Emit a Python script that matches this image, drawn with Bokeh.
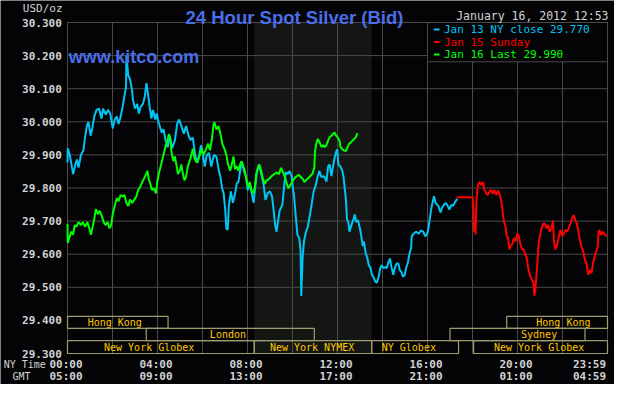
from bokeh.plotting import figure
from bokeh.models import Range1d
from bokeh.core.properties import value
from bokeh.embed import file_html
from bokeh.resources import INLINE

# ---------------- data ----------------
y_ticks = [30.3, 30.2, 30.1, 30.0, 29.9, 29.8, 29.7, 29.6, 29.5, 29.4, 29.3]
y_tick_labels = ["30.300", "30.200", "30.100", "30.000", "29.900", "29.800",
                 "29.700", "29.600", "29.500", "29.400", "29.300"]
x_ticks = [0, 4, 8, 12, 16, 20, 24]
ny_time_labels = ["00:00", "04:00", "08:00", "12:00", "16:00", "20:00", "23:59"]
gmt_labels = ["05:00", "09:00", "13:00", "17:00", "21:00", "01:00", "04:59"]

# (hour NY time, USD/oz)
jan13 = [(0.00, 29.877), (0.01, 29.920), (0.10, 29.900), (0.25, 29.842), (0.35, 29.871),
         (0.42, 29.886), (0.49, 29.862), (0.60, 29.900), (0.71, 29.915), (0.78, 29.952),
         (0.86, 29.987), (0.93, 30.000), (1.03, 29.958), (1.10, 29.980), (1.19, 30.016),
         (1.29, 30.036), (1.40, 30.040), (1.51, 30.010), (1.58, 30.040), (1.70, 30.022),
         (1.80, 30.036), (1.90, 30.025), (2.01, 29.980), (2.10, 30.007), (2.19, 30.016),
         (2.27, 29.993), (2.36, 30.016), (2.45, 30.045), (2.52, 30.074), (2.60, 30.103),
         (2.62, 30.200), (2.70, 30.140), (2.77, 30.130), (2.86, 30.100), (2.91, 30.065),
         (3.00, 30.040), (3.10, 30.054), (3.17, 30.025), (3.25, 30.045), (3.35, 30.054),
         (3.43, 30.074), (3.51, 30.117), (3.58, 30.083), (3.65, 30.045), (3.73, 30.010),
         (3.80, 30.036), (3.90, 30.007), (3.97, 30.025), (4.04, 30.000), (4.13, 29.980),
         (4.19, 29.967), (4.27, 29.978), (4.36, 29.943), (4.45, 29.923), (4.55, 29.958),
         (4.65, 29.920), (4.77, 29.943), (4.88, 29.996), (4.96, 30.007), (5.06, 29.987),
         (5.17, 29.964), (5.27, 29.987), (5.38, 29.958), (5.47, 29.945), (5.57, 29.952),
         (5.67, 29.900), (5.78, 29.877), (5.86, 29.900), (5.93, 29.929), (6.00, 29.909),
         (6.10, 29.865), (6.19, 29.900), (6.29, 29.906), (6.39, 29.865), (6.51, 29.900),
         (6.62, 29.894), (6.73, 29.851), (6.80, 29.833), (6.87, 29.799), (6.94, 29.784),
         (7.01, 29.735), (7.06, 29.677), (7.12, 29.674), (7.17, 29.746), (7.26, 29.790),
         (7.35, 29.755), (7.45, 29.784), (7.52, 29.813), (7.60, 29.819), (7.67, 29.851),
         (7.75, 29.880), (7.84, 29.851), (7.93, 29.836), (8.01, 29.793), (8.10, 29.813),
         (8.19, 29.784), (8.27, 29.755), (8.36, 29.813), (8.42, 29.851), (8.51, 29.871),
         (8.61, 29.842), (8.71, 29.813), (8.80, 29.764), (8.90, 29.784), (9.00, 29.790),
         (9.09, 29.775), (9.14, 29.746), (9.23, 29.688), (9.29, 29.668), (9.35, 29.697),
         (9.43, 29.732), (9.55, 29.749), (9.64, 29.813), (9.70, 29.848), (9.78, 29.842),
         (9.87, 29.851), (9.96, 29.836), (10.01, 29.804), (10.07, 29.775), (10.13, 29.726),
         (10.22, 29.659), (10.30, 29.648), (10.36, 29.610), (10.39, 29.474), (10.45, 29.590),
         (10.51, 29.639), (10.60, 29.668), (10.68, 29.683), (10.77, 29.717), (10.86, 29.755),
         (10.94, 29.790), (11.03, 29.807), (11.12, 29.835), (11.19, 29.851), (11.29, 29.833),
         (11.40, 29.836), (11.51, 29.819), (11.58, 29.865), (11.65, 29.871), (11.73, 29.836),
         (11.80, 29.865), (11.87, 29.891), (11.94, 29.909), (11.99, 29.917), (12.04, 29.871),
         (12.13, 29.865), (12.22, 29.851), (12.27, 29.833), (12.33, 29.793), (12.38, 29.761),
         (12.42, 29.706), (12.48, 29.697), (12.53, 29.668), (12.62, 29.688), (12.71, 29.706),
         (12.77, 29.720), (12.83, 29.697), (12.91, 29.703), (13.00, 29.677), (13.06, 29.654),
         (13.12, 29.625), (13.17, 29.639), (13.25, 29.604), (13.32, 29.590), (13.39, 29.567),
         (13.47, 29.558), (13.53, 29.538), (13.61, 29.529), (13.68, 29.517), (13.75, 29.514),
         (13.83, 29.532), (13.90, 29.558), (13.97, 29.567), (14.04, 29.558), (14.12, 29.561),
         (14.19, 29.558), (14.26, 29.575), (14.33, 29.587), (14.40, 29.561), (14.48, 29.538),
         (14.55, 29.558), (14.62, 29.572), (14.70, 29.572), (14.77, 29.552), (14.84, 29.546),
         (14.91, 29.532), (14.99, 29.538), (15.06, 29.561), (15.13, 29.575), (15.20, 29.601),
         (15.27, 29.619), (15.30, 29.654), (15.38, 29.662), (15.49, 29.668), (15.61, 29.662),
         (15.71, 29.671), (15.81, 29.668), (15.90, 29.654), (15.99, 29.662), (16.04, 29.677),
         (16.10, 29.706), (16.16, 29.735), (16.22, 29.755), (16.29, 29.775), (16.36, 29.755),
         (16.48, 29.746), (16.58, 29.726), (16.65, 29.741), (16.73, 29.749), (16.80, 29.755),
         (16.88, 29.749), (16.97, 29.735), (17.06, 29.749), (17.14, 29.746), (17.23, 29.758),
         (17.32, 29.767)]

jan15 = [(17.30, 29.772), (18.01, 29.772), (18.04, 29.736), (18.07, 29.668), (18.12, 29.697),
         (18.14, 29.660), (18.17, 29.755), (18.22, 29.799), (18.27, 29.813), (18.33, 29.818),
         (18.39, 29.808), (18.47, 29.818), (18.53, 29.794), (18.61, 29.784), (18.68, 29.779),
         (18.75, 29.789), (18.83, 29.794), (18.90, 29.782), (18.97, 29.794), (19.06, 29.779),
         (19.14, 29.792), (19.22, 29.779), (19.29, 29.755), (19.35, 29.721), (19.40, 29.697),
         (19.47, 29.683), (19.52, 29.654), (19.58, 29.649), (19.64, 29.615), (19.70, 29.625),
         (19.77, 29.630), (19.84, 29.649), (19.91, 29.639), (19.99, 29.663), (20.06, 29.654),
         (20.13, 29.630), (20.20, 29.615), (20.27, 29.615), (20.35, 29.600), (20.42, 29.586),
         (20.49, 29.552), (20.57, 29.533), (20.64, 29.523), (20.71, 29.514), (20.75, 29.475),
         (20.80, 29.499), (20.86, 29.552), (20.91, 29.600), (20.94, 29.634), (21.00, 29.658),
         (21.07, 29.678), (21.14, 29.692), (21.22, 29.692), (21.29, 29.678), (21.36, 29.688),
         (21.43, 29.668), (21.51, 29.678), (21.58, 29.702), (21.62, 29.639), (21.68, 29.615),
         (21.75, 29.625), (21.84, 29.654), (21.91, 29.673), (21.99, 29.654), (22.06, 29.663),
         (22.13, 29.673), (22.20, 29.668), (22.27, 29.678), (22.35, 29.692), (22.42, 29.707),
         (22.49, 29.718), (22.57, 29.702), (22.64, 29.692), (22.71, 29.668), (22.78, 29.639),
         (22.86, 29.620), (22.93, 29.605), (23.00, 29.581), (23.07, 29.571), (23.14, 29.538),
         (23.22, 29.552), (23.29, 29.543), (23.35, 29.571), (23.42, 29.591), (23.49, 29.605),
         (23.57, 29.625), (23.61, 29.673), (23.67, 29.668), (23.73, 29.658), (23.78, 29.668),
         (23.84, 29.663), (23.90, 29.658), (23.97, 29.654)]

jan16 = [(0.00, 29.692), (0.01, 29.634), (0.10, 29.654), (0.17, 29.668), (0.25, 29.659),
         (0.32, 29.688), (0.39, 29.683), (0.49, 29.697), (0.60, 29.688), (0.68, 29.697),
         (0.78, 29.683), (0.88, 29.697), (0.97, 29.678), (1.04, 29.659), (1.12, 29.683),
         (1.19, 29.707), (1.26, 29.736), (1.35, 29.721), (1.43, 29.731), (1.52, 29.716),
         (1.61, 29.697), (1.70, 29.688), (1.78, 29.697), (1.87, 29.678), (1.94, 29.688),
         (2.01, 29.721), (2.10, 29.746), (2.19, 29.770), (2.27, 29.760), (2.36, 29.779),
         (2.45, 29.774), (2.53, 29.779), (2.62, 29.755), (2.70, 29.746), (2.78, 29.765),
         (2.88, 29.755), (2.97, 29.765), (3.06, 29.774), (3.14, 29.794), (3.23, 29.803),
         (3.32, 29.818), (3.40, 29.828), (3.49, 29.842), (3.55, 29.852), (3.61, 29.828),
         (3.68, 29.813), (3.75, 29.794), (3.84, 29.799), (3.93, 29.784), (3.99, 29.818),
         (4.07, 29.847), (4.16, 29.871), (4.25, 29.895), (4.33, 29.919), (4.42, 29.939),
         (4.51, 29.963), (4.57, 29.948), (4.62, 29.910), (4.70, 29.881), (4.77, 29.895),
         (4.84, 29.871), (4.91, 29.842), (4.99, 29.852), (5.06, 29.871), (5.13, 29.842),
         (5.20, 29.823), (5.27, 29.833), (5.35, 29.866), (5.47, 29.890), (5.57, 29.919),
         (5.64, 29.890), (5.75, 29.876), (5.86, 29.895), (5.96, 29.919), (6.04, 29.900),
         (6.14, 29.914), (6.25, 29.934), (6.33, 29.914), (6.42, 29.948), (6.48, 29.987),
         (6.53, 29.999), (6.62, 29.977), (6.71, 29.987), (6.80, 29.963), (6.88, 29.934),
         (6.97, 29.919), (7.06, 29.900), (7.14, 29.871), (7.23, 29.852), (7.32, 29.876),
         (7.38, 29.895), (7.45, 29.857), (7.52, 29.866), (7.60, 29.852), (7.67, 29.871),
         (7.74, 29.881), (7.81, 29.866), (7.88, 29.852), (7.96, 29.823), (8.03, 29.803),
         (8.10, 29.818), (8.17, 29.794), (8.25, 29.784), (8.32, 29.799), (8.39, 29.842),
         (8.47, 29.861), (8.53, 29.871), (8.61, 29.852), (8.68, 29.828), (8.77, 29.813),
         (8.86, 29.823), (8.97, 29.828), (9.09, 29.837), (9.19, 29.842), (9.29, 29.847),
         (9.40, 29.842), (9.49, 29.861), (9.58, 29.847), (9.67, 29.832), (9.75, 29.813),
         (9.81, 29.799), (9.90, 29.808), (9.99, 29.818), (10.07, 29.828), (10.16, 29.834),
         (10.27, 29.840), (10.36, 29.834), (10.45, 29.828), (10.53, 29.818), (10.62, 29.825),
         (10.71, 29.830), (10.80, 29.837), (10.88, 29.842), (10.97, 29.861), (11.00, 29.910),
         (11.06, 29.934), (11.12, 29.948), (11.20, 29.938), (11.29, 29.924), (11.36, 29.929),
         (11.43, 29.924), (11.51, 29.929), (11.58, 29.943), (11.65, 29.953), (11.73, 29.958),
         (11.80, 29.963), (11.87, 29.968), (11.94, 29.958), (12.01, 29.953), (12.09, 29.943),
         (12.13, 29.924), (12.19, 29.919), (12.27, 29.914), (12.38, 29.912), (12.45, 29.924),
         (12.52, 29.934), (12.60, 29.938), (12.67, 29.943), (12.74, 29.948), (12.81, 29.953),
         (12.88, 29.966)]

legend_labels = ["Jan 13 NY close 29.770", "Jan 15 Sunday", "Jan 16 Last 29.990"]

session_names = ["Hong Kong", "London", "New York Globex", "New York NYMEX",
                 "NY Globex", "New York Globex", "Sydney", "Hong Kong"]
session_start = [0.0, 3.5, 0.0, 8.3, 13.52, 18.05, 17.0, 19.52]
session_end = [4.47, 10.97, 8.3, 13.52, 17.38, 24.0, 23.0, 24.0]
session_row = [1, 2, 3, 3, 3, 3, 2, 1]
session_label_at = [2.10, 7.13, 3.63, 10.87, 15.17, 20.96, 20.96, 22.04]
nymex_hours = (8.3, 13.52)

title_text = "24 Hour Spot Silver (Bid)"
site_text = "www.kitco.com"
date_text = "January 16, 2012 12:53"
unit_text = "USD/oz"

# ---------------- layout / style ----------------
W, H = 614, 384
FL, FR = 67.0, 607.0      # canvas px of 00:00 and 24:00
FT, FB = 22.0, 353.0      # canvas px of 30.300 and 29.300
T0, T1 = 0.0, 24.0
P0, P1 = 29.3, 30.3


def X(px):
    return T0 + (px - FL) * (T1 - T0) / (FR - FL)


def Y(py):
    return P1 - (py - FT) * (P1 - P0) / (FB - FT)


BG = "#040406"
SHADE = "#141613"
GRID = "#4a4a4a"
CYAN = "#00c4f4"
RED = "#ff0000"
GREEN = "#00ff00"
BLUE = "#4a6ee8"
LABEL = "#d2d2d2"
SESS_LINE = "#a09c70"
SESS_TEXT = "#ffc800"
MONO = value("DejaVu Sans Mono")
SANS = value("Liberation Sans")

ROW_EDGES = [29.3, 29.3386, 29.3762, 29.4122]
ROW1_Y, ROW2_Y = 364.0, 375.5

p = figure(width=W, height=H, x_range=Range1d(X(0), X(W)), y_range=Range1d(Y(H), Y(0)),
           x_axis_type=None, y_axis_type=None, toolbar_location=None,
           output_backend="svg", min_border=0, title=None,
           background_fill_color=BG, border_fill_color=BG, outline_line_color=None)
p.grid.visible = False

# NYMEX shaded hours
p.quad(left=[nymex_hours[0]], right=[nymex_hours[1]], bottom=[P0], top=[P1],
       fill_color=SHADE, line_color=None)

# grid
grid_hours = list(range(0, 25, 2))
p.segment(x0=grid_hours, x1=grid_hours, y0=[P0] * len(grid_hours), y1=[P1] * len(grid_hours),
          line_color=GRID, line_width=1)
hgrid = [v for v in y_ticks if v > 29.45]
p.segment(x0=[T0] * len(hgrid), x1=[T1] * len(hgrid), y0=hgrid, y1=hgrid,
          line_color=GRID, line_width=1)

# series
for series, col in ((jan13, CYAN), (jan16, GREEN), (jan15, RED)):
    p.line([t for t, _ in series], [v for _, v in series], line_color=col, line_width=2)

# legend box
box_left = 16.0
box_px = FL + (box_left - T0) * (FR - FL) / (T1 - T0)
leg_rows = [Y(29), Y(41.5), Y(54)]
p.quad(left=[box_left], right=[T1], bottom=[Y(61.3)], top=[P1],
       fill_color=BG, line_color=GRID, line_width=1)
p.segment(x0=[X(box_px + 6.4)] * 3, x1=[X(box_px + 12)] * 3, y0=leg_rows, y1=leg_rows,
          line_color=[CYAN, RED, GREEN], line_width=2)
p.text(x=[X(box_px + 16.5)] * 3, y=leg_rows, text=legend_labels, text_color=[CYAN, RED, GREEN],
       text_font=MONO, text_font_size="11px", text_align="left", text_baseline="middle")


# trading sessions
def row_bottom(r):
    return ROW_EDGES[3 - r]


def row_top(r):
    return ROW_EDGES[4 - r]


sb = [row_bottom(r) for r in session_row]
st = [row_top(r) for r in session_row]
p.quad(left=session_start, right=session_end, bottom=sb, top=st,
       fill_color=None, line_color=SESS_LINE, line_width=1.2)
p.text(x=session_label_at, y=[(a + b) / 2 for a, b in zip(sb, st)], text=session_names,
       text_color=SESS_TEXT, text_font=MONO, text_font_size="10px",
       text_align="center", text_baseline="middle")

# y tick labels
p.text(x=[X(61.3)] * len(y_ticks), y=y_ticks, text=y_tick_labels, text_color=LABEL,
       text_font=MONO, text_font_size="11px", text_font_style="bold",
       text_align="right", text_baseline="middle")
p.text(x=[X(62)], y=[Y(7.5)], text=[unit_text], text_color=LABEL, text_font=MONO,
       text_font_size="11px", text_align="right", text_baseline="middle")

# x tick labels (NY time and GMT)
offs = [-1.5] * (len(x_ticks) - 1) + [-18]
p.text(x=x_ticks, y=[Y(ROW1_Y)] * len(x_ticks), text=ny_time_labels, x_offset=offs,
       text_color=LABEL, text_font=MONO, text_font_size="11px", text_font_style="bold",
       text_align="center", text_baseline="middle")
p.text(x=x_ticks, y=[Y(ROW2_Y)] * len(x_ticks), text=gmt_labels, x_offset=offs,
       text_color=LABEL, text_font=MONO, text_font_size="11px", text_font_style="bold",
       text_align="center", text_baseline="middle")
p.text(x=[X(24.2), X(21)], y=[Y(ROW1_Y), Y(ROW2_Y)], text=["NY Time", "GMT"], text_color=LABEL,
       text_font=MONO, text_font_size="10px", text_align="center", text_baseline="middle")

# titles
p.text(x=[X(294)], y=[Y(17)], text=[title_text], text_color=BLUE, text_font=SANS,
       text_font_size="18.5px", text_font_style="bold", text_align="center",
       text_baseline="alphabetic")
p.text(x=[X(608)], y=[Y(15.2)], text=[date_text], text_color=LABEL, text_font=MONO,
       text_font_size="11.5px", text_align="right", text_baseline="middle")
p.text(x=[X(68.3)], y=[Y(56)], text=[site_text], text_color=BLUE, text_font=SANS,
       text_font_size="18px", text_font_style="bold", text_align="left",
       text_baseline="alphabetic")

open("out.html", "w").write(file_html(p, INLINE))
